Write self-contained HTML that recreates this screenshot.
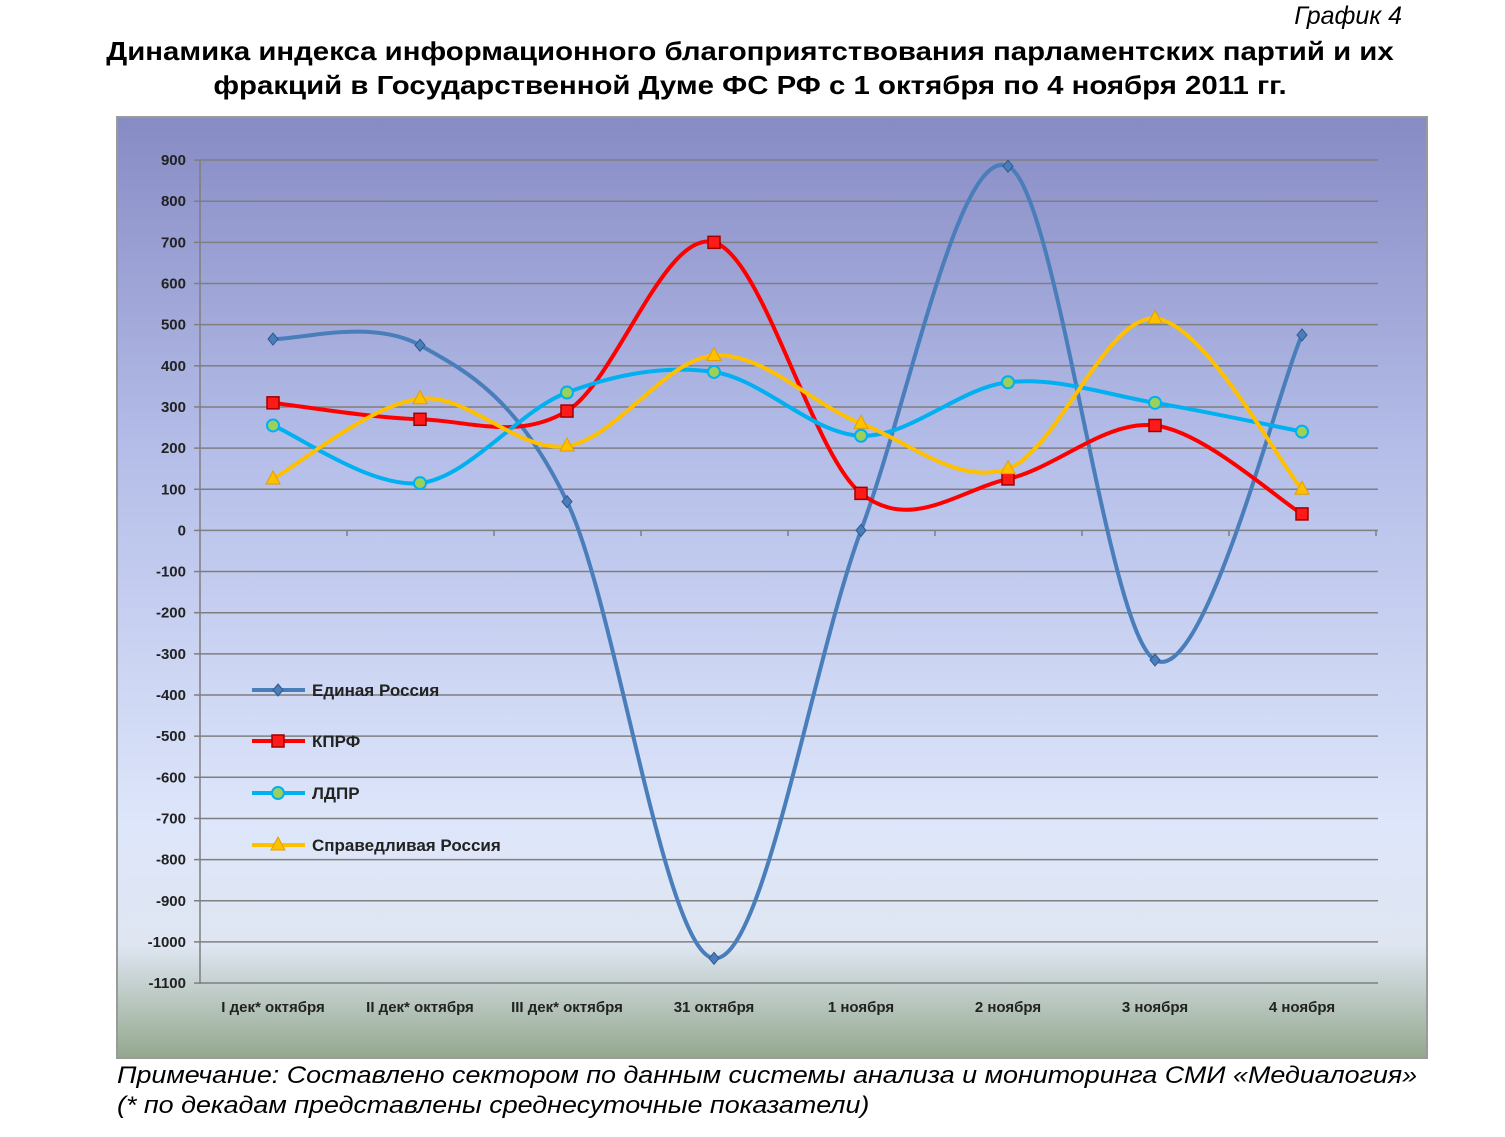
<!DOCTYPE html>
<html><head><meta charset="utf-8"><style>
body{margin:0;width:1505px;height:1137px;background:#fff;font-family:"Liberation Sans",sans-serif;position:relative;overflow:hidden}
.t{position:absolute;white-space:nowrap}
</style></head><body>
<div class="t" style="right:103px;top:2px;font-size:25px;font-style:italic">График 4</div>
<div class="t" style="left:0;width:1500px;text-align:center;top:34px;font-size:26px;font-weight:bold;line-height:34px;transform:scaleX(1.13);transform-origin:750px 0">Динамика индекса информационного благоприятствования парламентских партий и их<br>фракций в Государственной Думе ФС РФ с 1 октября по 4 ноября 2011 гг.</div>
<svg width="1505" height="1137" style="position:absolute;left:0;top:0">
<defs><linearGradient id="bg" x1="0" y1="0" x2="0" y2="1">
<stop offset="0" stop-color="#878bc4"/><stop offset="0.35" stop-color="#b4bde8"/><stop offset="0.75" stop-color="#dde6fa"/><stop offset="0.88" stop-color="#dfe6f2"/><stop offset="1" stop-color="#93a88d"/></linearGradient></defs>
<rect x="117" y="117" width="1310" height="941" fill="url(#bg)" stroke="#9a9a9a" stroke-width="2"/>
<g id="grid"></g><g id="series"></g>
<g font-family="Liberation Sans" font-size="15" font-weight="bold" fill="#222" id="lab"></g>
</svg>
<div class="t" style="left:117px;top:1061px;font-size:24px;font-style:italic;line-height:30px;transform:scaleX(1.12);transform-origin:0 0">Примечание: Составлено сектором по данным системы анализа и мониторинга СМИ «Медиалогия»<br>(* по декадам представлены среднесуточные показатели)</div>
<script>
var NS="http://www.w3.org/2000/svg";
function el(p,t,a,txt){var e=document.createElementNS(NS,t);for(var k in a)e.setAttribute(k,a[k]);if(txt)e.textContent=txt;p.appendChild(e);return e;}
var g=document.getElementById('grid'),s=document.getElementById('series'),L=document.getElementById('lab');
function Y(v){return 530.4-v*0.41150;}
for(var v=900;v>=-1100;v-=100){var y=Y(v);el(g,'line',{x1:200,x2:1378,y1:y,y2:y,stroke:'#7f7f7f','stroke-width':1.5});
el(g,'line',{x1:194,x2:200,y1:y,y2:y,stroke:'#7f7f7f','stroke-width':1.5});
el(L,'text',{x:186,y:y+5,'text-anchor':'end'},String(v));}
el(g,'line',{x1:200,x2:200,y1:160,y2:984,stroke:'#7f7f7f','stroke-width':1.5});
var X=[273,420,567,714,861,1008,1155,1302];
for(var i=0;i<8;i++){el(g,'line',{x1:347+147*i,x2:347+147*i,y1:530,y2:536,stroke:'#7f7f7f','stroke-width':1.5});}
var cats=["I дек* октября","II дек* октября","III дек* октября","31 октября","1 ноября","2 ноября","3 ноября","4 ноября"];
cats.forEach(function(c,i){el(L,'text',{x:X[i],y:1012,'text-anchor':'middle'},c);});
var S=[
{d:[465,450,70,-1040,0,885,-315,475],c:'#4a7ebb',m:'d'},
{d:[310,270,290,700,90,125,255,40],c:'#ff0000',m:'s'},
{d:[255,115,335,385,230,360,310,240],c:'#00b0f0',m:'c'},
{d:[125,320,205,425,260,150,515,100],c:'#ffc000',m:'t'}];
function path(p){var d='M'+p[0][0]+','+p[0][1];var t=1/6;
for(var i=0;i<p.length-1;i++){var p0=p[i-1]||p[i],p1=p[i],p2=p[i+1],p3=p[i+2]||p2;
d+=' C'+(p1[0]+(p2[0]-p0[0])*t)+','+(p1[1]+(p2[1]-p0[1])*t)+' '+(p2[0]-(p3[0]-p1[0])*t)+','+(p2[1]-(p3[1]-p1[1])*t)+' '+p2[0]+','+p2[1];}return d;}
function mark(m,x,y,c){if(m=='d')el(s,'path',{d:'M'+x+','+(y-6)+'L'+(x+5)+','+y+'L'+x+','+(y+6)+'L'+(x-5)+','+y+'Z',fill:c,stroke:'#2d5a8e'});
else if(m=='s')el(s,'rect',{x:x-6,y:y-6,width:12,height:12,fill:'#ff1a1a',stroke:'#a00000','stroke-width':1.5});
else if(m=='c')el(s,'circle',{cx:x,cy:y,r:6,fill:'#9bd15a',stroke:'#00b0f0','stroke-width':2});
else el(s,'path',{d:'M'+x+','+(y-8)+'L'+(x+7)+','+(y+5)+'L'+(x-7)+','+(y+5)+'Z',fill:'#ffc000',stroke:'#e0a000'});}
S.forEach(function(q){var p=q.d.map(function(v,i){return [X[i],Y(v)];});
el(s,'path',{d:path(p),fill:'none',stroke:q.c,'stroke-width':4});
p.forEach(function(pt){mark(q.m,pt[0],pt[1],q.c);});});
var names=["Единая Россия","КПРФ","ЛДПР","Справедливая Россия"],ly=[690,741,793,845];
S.forEach(function(q,i){el(s,'line',{x1:252,x2:305,y1:ly[i],y2:ly[i],stroke:q.c,'stroke-width':4});mark(q.m,278,ly[i],q.c);
el(L,'text',{x:312,y:ly[i]+6,'font-size':17},names[i]);});
</script>
</body></html>
